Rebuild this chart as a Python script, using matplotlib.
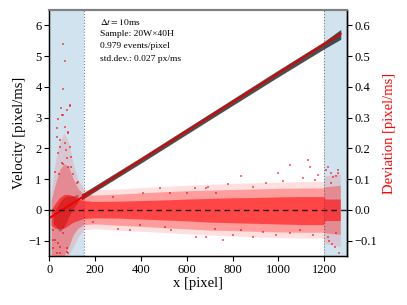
import matplotlib
matplotlib.use("Agg")
import matplotlib.pyplot as plt
import numpy as np

plt.rcParams['font.family'] = ['Liberation Serif', 'DejaVu Serif']
plt.rcParams['mathtext.fontset'] = 'stix'

# ---- data ----
# linear fit of velocity vs x
fit_x = [0, 1272]
fit_v = [-0.27, 5.73]

# band of black velocity samples around the fit  [pixel/ms]
vel_band_x = [140, 400, 700, 1000, 1200, 1272]
vel_band_lo = [0.32, 1.52, 2.93, 4.33, 5.24, 5.55]
vel_band_hi = [0.51, 1.71, 3.13, 4.55, 5.48, 5.87]

# dark cloud of velocity samples in the left edge region
vel_cloud_x = [18, 30, 45, 60, 75, 90, 105, 125]
vel_cloud_lo = [-0.45, -0.55, -0.70, -0.60, -0.40, -0.15, 0.05, 0.25]
vel_cloud_hi = [-0.10, 0.05, 0.25, 0.38, 0.45, 0.45, 0.45, 0.50]

# deviation cloud envelopes (right axis) [pixel/ms]
dev_x = [8, 25, 45, 65, 85, 105, 125, 150, 200, 300, 400, 500, 600, 700, 800, 900, 1000, 1100, 1195, 1205, 1270]
dev_core_lo = [-0.05, -0.06, -0.06, -0.06, -0.05, -0.04, -0.035, -0.028, -0.026, -0.027, -0.030, -0.033, -0.036, -0.040, -0.042, -0.044, -0.046, -0.048, -0.048, -0.035, -0.035]
dev_core_hi = [0.00, 0.02, 0.04, 0.05, 0.05, 0.045, 0.035, 0.030, 0.027, 0.028, 0.030, 0.032, 0.035, 0.037, 0.039, 0.040, 0.042, 0.043, 0.043, 0.035, 0.035]
dev_mid_lo = [-0.15, -0.15, -0.15, -0.15, -0.12, -0.08, -0.06, -0.048, -0.046, -0.050, -0.054, -0.058, -0.062, -0.066, -0.068, -0.070, -0.072, -0.073, -0.073, -0.075, -0.080]
dev_mid_hi = [0.03, 0.08, 0.13, 0.15, 0.14, 0.10, 0.07, 0.050, 0.048, 0.051, 0.055, 0.059, 0.062, 0.064, 0.066, 0.068, 0.070, 0.071, 0.071, 0.075, 0.080]
dev_out_lo = [-0.15, -0.15, -0.15, -0.15, -0.15, -0.12, -0.09, -0.065, -0.062, -0.066, -0.070, -0.074, -0.078, -0.082, -0.085, -0.088, -0.090, -0.092, -0.092, -0.11, -0.12]
dev_out_hi = [0.06, 0.15, 0.22, 0.25, 0.22, 0.15, 0.10, 0.068, 0.065, 0.068, 0.072, 0.076, 0.080, 0.083, 0.086, 0.088, 0.090, 0.092, 0.092, 0.11, 0.12]

# individual outlying deviation samples (x, deviation)
out_x = [61, 70, 61, 90, 51, 39, 55, 68, 80, 32, 47, 73, 93, 58, 83, 105, 44, 126,
         15, 39, 17, 76, 83, 47, 25, 61,
         90, 76, 61, 32, 83, 47, 68, 90, 39, 76, 54, 97, 25, 119, 17, 47, 76, 32, 61,
         483, 693, 642, 352, 301, 1049, 1128, 838, 998, 780, 1172, 889, 1092, 686, 758,
         410, 526, 599, 635, 279, 192, 395, 504, 533,
         686, 729, 889, 947, 1020, 1107, 1158, 1136, 838, 933, 991, 1049, 1150, 802, 722,
         1209, 1238, 1259, 1230, 1252, 1216, 1215, 1230, 1245, 1260, 1220, 1250, 1265, 1235]
out_d = [0.540, 0.483, 0.394, 0.337, 0.332, 0.297, 0.307, 0.270, 0.253, 0.237, 0.205, 0.194, 0.172, 0.150, 0.140, 0.118, 0.118, 0.091,
         -0.066, -0.109, -0.125, -0.125, -0.142, -0.142, -0.098, -0.055,
         0.342, 0.326, 0.309, 0.266, 0.250, 0.228, 0.217, 0.206, 0.184, 0.168, 0.152, 0.140, 0.124, 0.086, -0.099, -0.121, -0.137, -0.142, -0.077,
         0.070, 0.075, -0.088, -0.066, -0.061, 0.146, 0.162, 0.110, 0.121, 0.084, 0.113, -0.088, -0.066, -0.088, -0.099,
         0.054, 0.054, 0.054, 0.070, 0.042, -0.039, -0.050, -0.055, -0.066,
         0.070, 0.054, 0.075, 0.086, 0.095, 0.103, 0.097, 0.140, -0.066, -0.072, -0.083, -0.077, -0.083, -0.083, -0.061,
         0.130, 0.108, 0.119, 0.086, -0.077, -0.088, 0.140, 0.120, -0.120, 0.130, -0.100, 0.110, -0.140, -0.110]

# edge regions and annotation
edge_regions = [(0, 150), (1200, 1300)]
info_lines = [r"$\Delta t = 10$ms", "Sample: 20W×40H", "0.979 events/pixel", "std.dev.: 0.027 px/ms"]
x_ticks = [0, 200, 400, 600, 800, 1000, 1200]
v_ticks = [-1, 0, 1, 2, 3, 4, 5, 6]
d_ticks = [-0.1, 0.0, 0.1, 0.2, 0.3, 0.4, 0.5, 0.6]

# ---- figure ----
fig = plt.figure(figsize=(4.07, 3.05), dpi=100)
ax = fig.add_axes([0.121, 0.161, 0.732, 0.806])
ax.set_xlim(0, 1300)
ax.set_ylim(-1.5, 6.5)

for (a, b) in edge_regions:
    ax.axvspan(a, b, color='#1f77b4', alpha=0.2, lw=0, zorder=0)
for xv in (150, 1200):
    ax.axvline(xv, color='gray', ls=':', lw=0.8, zorder=1)

ax.fill_between(vel_cloud_x, vel_cloud_lo, vel_cloud_hi, color='black', alpha=0.4, lw=0, zorder=2)
ax.fill_between(vel_band_x, vel_band_lo, vel_band_hi, color='#222222', alpha=0.8, lw=0, zorder=2)
ax.plot(fit_x, fit_v, color='#e00000', lw=1.4, zorder=4)

ax.set_xticks(x_ticks)
ax.set_yticks(v_ticks)
ax.set_yticklabels([f"{t:d}".replace('-', '\u2212') for t in v_ticks])
ax.set_xlabel("x [pixel]", fontsize=10.5, labelpad=1)
ax.set_ylabel("Velocity [pixel/ms]", fontsize=10.5, labelpad=2)
ax.tick_params(labelsize=9, length=3.5, width=0.8, pad=2)
for s in ('left', 'bottom', 'right'):
    ax.spines[s].set_linewidth(1.0)
ax.spines['top'].set_color('#808080')
ax.spines['top'].set_linewidth(1.5)

ax2 = ax.twinx()
ax2.set_ylim(-0.15, 0.65)
ax2.fill_between(dev_x, dev_out_lo, dev_out_hi, color='#ff0000', alpha=0.12, lw=0, zorder=2)
ax2.fill_between(dev_x, dev_mid_lo, dev_mid_hi, color='#ff0000', alpha=0.3, lw=0, zorder=2)
ax2.fill_between(dev_x, dev_core_lo, dev_core_hi, color='#ff0000', alpha=0.55, lw=0, zorder=2)
ax2.scatter(out_x, out_d, s=3, marker='s', color='#ff0000', alpha=0.55, lw=0, zorder=3)
ax2.axhline(0, color='black', ls='--', lw=1.0, dashes=(4, 3), alpha=0.85, zorder=5)
ax2.set_yticks(d_ticks)
ax2.set_yticklabels([f"{t:.1f}".replace('-', '\u2212') for t in d_ticks])
ax2.set_ylabel("Deviation [pixel/ms]", fontsize=10.5, color='red', labelpad=4)
ax2.tick_params(labelsize=9, length=3.5, width=0.8, pad=2)
ax2.spines['top'].set_color('#808080')
ax2.spines['top'].set_linewidth(1.5)
ax2.spines['right'].set_linewidth(1.0)

ys = [0.951, 0.902, 0.854, 0.801]
for t, y in zip(info_lines, ys):
    ax.text(0.17, y, t, transform=ax.transAxes, fontsize=6.8, va='center', ha='left', zorder=6)

fig.savefig("out.png", dpi=100)
